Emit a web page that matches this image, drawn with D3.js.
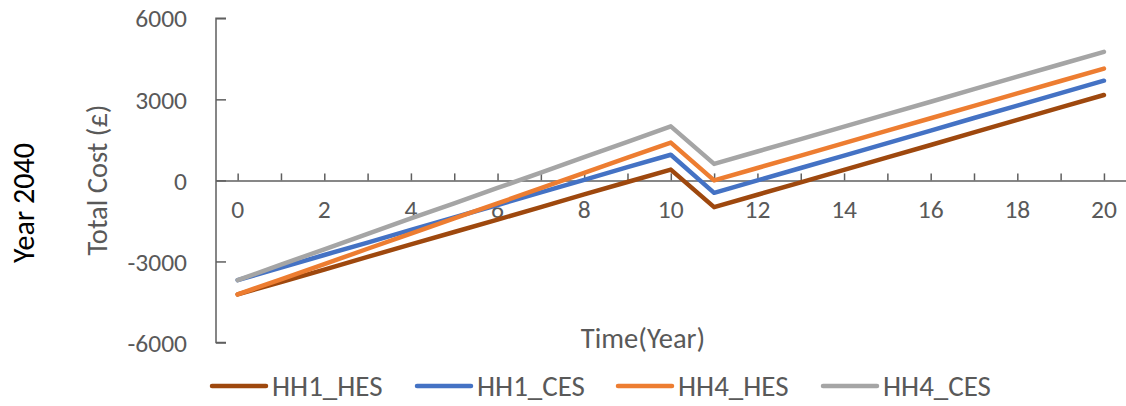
<!DOCTYPE html>
<html><head><meta charset="utf-8">
<script src="https://cdn.jsdelivr.net/npm/d3@7"></script>
<style>
html,body{margin:0;padding:0;background:#fff;}
text{font-family:Carlito, Lato, sans-serif;}
</style></head>
<body>
<svg id="c" width="1126" height="406"></svg>
<script>
const years = [0,1,2,3,4,5,6,7,8,9,10,11,12,13,14,15,16,17,18,19,20];
const seriesNames = ["HH1_HES","HH1_CES","HH4_HES","HH4_CES"];
const seriesColors = ["#9E480E","#4472C4","#ED7D31","#A5A5A5"];
const hh1HES = [-4220,-3760,-3300,-2830,-2370,-1910,-1450,-990,-520,-60,400,-990,-530,-70,390,850,1310,1780,2240,2700,3160];
const hh1CES = [-3690,-3230,-2760,-2300,-1830,-1370,-910,-440,20,490,950,-460,0,460,920,1380,1840,2310,2770,3230,3690];
const hh4HES = [-4220,-3660,-3100,-2530,-1970,-1410,-850,-290,280,840,1400,0,460,920,1380,1840,2300,2760,3220,3680,4140];
const hh4CES = [-3690,-3120,-2550,-1980,-1410,-850,-280,290,860,1430,2000,610,1070,1530,1990,2450,2910,3380,3840,4300,4760];
const yTicks = [-6000,-3000,0,3000,6000];
const xLabelTicks = [0,2,4,6,8,10,12,14,16,18,20];
const yTitle = "Total Cost (£)";
const xTitle = "Time(Year)";
const sideLabel = "Year 2040";

const allSeries = [hh1HES,hh1CES,hh4HES,hh4CES];
const svg = d3.select("#c");
const axisColor = "#5f5f5f";
const textColor = "#595959";

const x = d3.scaleLinear().domain([-0.5,20.5]).range([216,1125.6]);
const y = d3.scaleLinear().domain([-6000,6000]).range([342.5,18.3]);

// Y axis
const yAxis = svg.append("g").attr("transform",`translate(${x(-0.5)},0)`)
  .call(d3.axisRight(y).tickValues(yTicks).tickSize(10).tickFormat(""));
yAxis.select(".domain").attr("stroke",axisColor).attr("stroke-width",1.5).attr("d",`M10,${y(6000)}H0V${y(-6000)}H10`);
yAxis.selectAll(".tick line").attr("stroke",axisColor).attr("stroke-width",1.5);
svg.append("g").selectAll("text").data(yTicks).join("text")
  .attr("x",187).attr("y",d=>y(d)).attr("dy","0.36em")
  .attr("text-anchor","end").attr("font-size",25.5).attr("fill",textColor)
  .text(d=>d);

// X axis at y=0
const xAxis = svg.append("g").attr("transform",`translate(0,${y(0)})`)
  .call(d3.axisTop(x).tickValues(years).tickSize(7).tickSizeOuter(0).tickFormat(""));
xAxis.select(".domain").attr("stroke",axisColor).attr("stroke-width",1.5);
xAxis.selectAll(".tick line").attr("stroke",axisColor).attr("stroke-width",1.5);
svg.append("g").selectAll("text").data(xLabelTicks).join("text")
  .attr("x",d=>x(d)).attr("y",y(0)+28).attr("dy","0.36em")
  .attr("text-anchor","middle").attr("font-size",25.5).attr("fill",textColor)
  .text(d=>d);

// Lines
const line = d3.line().x((d,i)=>x(years[i])).y(d=>y(d));
svg.append("g").selectAll("path").data(allSeries).join("path")
  .attr("d",d=>line(d)).attr("fill","none")
  .attr("stroke",(d,i)=>seriesColors[i]).attr("stroke-width",4.5)
  .attr("stroke-linecap","round").attr("stroke-linejoin","round");

// Titles
svg.append("text").attr("transform","translate(97,180) rotate(-90)")
  .attr("text-anchor","middle").attr("dy","0.36em").attr("font-size",28.5).attr("fill",textColor).text(yTitle);
svg.append("text").attr("x",643).attr("y",338).attr("dy","0.36em")
  .attr("text-anchor","middle").attr("font-size",28.5).attr("fill",textColor).text(xTitle);
svg.append("text").attr("transform","translate(23,203) rotate(-90)")
  .attr("text-anchor","middle").attr("dy","0.36em").attr("font-size",30).attr("fill","#000").text(sideLabel);

// Legend
const legendX = [212,417,618,823];
const lg = svg.append("g").selectAll("g").data(seriesNames).join("g")
  .attr("transform",(d,i)=>`translate(${legendX[i]},386)`);
lg.append("line").attr("x1",0).attr("x2",54).attr("y1",0).attr("y2",0)
  .attr("stroke",(d,i)=>seriesColors[i]).attr("stroke-width",4.5).attr("stroke-linecap","round");
lg.append("text").attr("x",60).attr("y",0).attr("dy","0.34em")
  .attr("font-size",29).attr("fill",textColor).text(d=>d);
</script>
</body></html>
